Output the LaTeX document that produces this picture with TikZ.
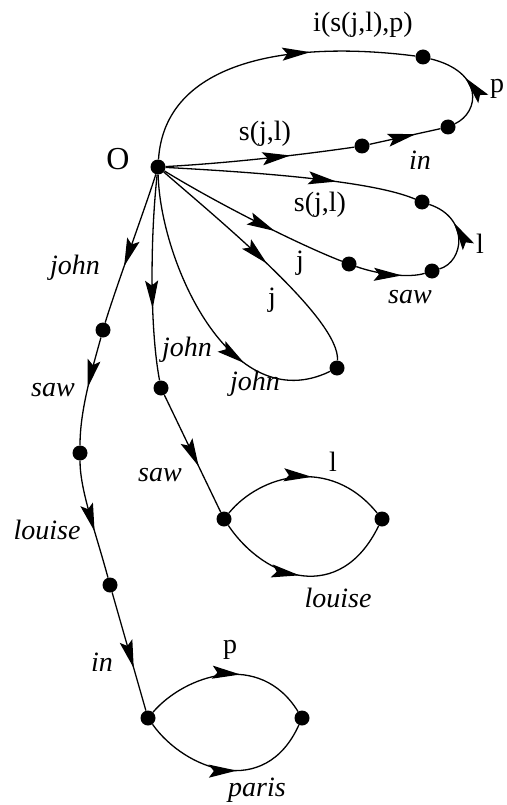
\documentclass[tikz,border=0pt]{standalone}
\usepackage{fontspec}
\setmainfont{Liberation Serif}
\usetikzlibrary{arrows.meta,decorations.markings}
\tikzset{
  dot/.style={circle,fill=black,inner sep=0pt,minimum size=15pt},
  edge/.style={line width=1.3pt},
  arr/.style={postaction={decorate,decoration={markings,
     mark=at position #1 with {\arrow{Stealth[length=28pt,width=13pt,inset=5pt]}}}}},
  lab/.style={font=\fontsize{28}{30}\selectfont,inner sep=0pt},
  ilab/.style={font=\fontsize{28}{30}\selectfont\itshape,inner sep=0pt},
}
\begin{document}
\begin{tikzpicture}[x=1pt,y=-1pt]
\useasboundingbox (0,0) rectangle (506,805);
% dots
\node[dot] (O)  at (158,167) {};
\node[dot] (A1) at (423,57) {};
\node[dot] (A2) at (448,127) {};
\node[dot] (B1) at (362,146) {};
\node[dot] (C1) at (422,202) {};
\node[dot] (C2) at (432,271) {};
\node[dot] (D1) at (349,264) {};
\node[dot] (E1) at (337,368) {};
\node[dot] (F1) at (161,388) {};
\node[dot] (G1) at (224,519) {};
\node[dot] (G2) at (382,519) {};
\node[dot] (H1) at (103,330) {};
\node[dot] (H2) at (80,453) {};
\node[dot] (H3) at (110,585) {};
\node[dot] (I1) at (148,718) {};
\node[dot] (I2) at (302,718) {};
% edges
\draw[edge,arr=0.66] (O) .. controls (165,60) and (290,40) .. (A1);
\draw[edge,arr=0.58] (A2) .. controls (480,112) and (484,72) .. (A1);
\draw[edge,arr=0.66] (O) .. controls (230,163) and (300,155) .. (B1);
\draw[edge,arr=0.65] (B1) -- (A2);
\draw[edge,arr=0.68] (O) .. controls (250,172) and (370,180) .. (C1);
\draw[edge,arr=0.64] (C2) .. controls (464,262) and (470,218) .. (C1);
\draw[edge,arr=0.63] (O) .. controls (220,205) and (300,245) .. (D1);
\draw[edge,arr=0.67] (D1) .. controls (380,275) and (410,278) .. (C2);
\draw[edge,arr=0.53] (O) .. controls (225,225) and (340,320) .. (E1);
\draw[edge,arr=0.70] (O) .. controls (160,260) and (230,420) .. (E1);
\draw[edge,arr=0.65] (O) .. controls (150,240) and (150,330) .. (F1);
\draw[edge,arr=0.61] (F1) -- (G1);
\draw[edge,arr=0.55] (G1) .. controls (260,475) and (330,455) .. (G2);
\draw[edge,arr=0.47] (G1) .. controls (265,580) and (340,605) .. (G2);
\draw[edge,arr=0.62] (O) .. controls (148,200) and (115,290) .. (H1);
\draw[edge,arr=0.47] (H1) .. controls (92,370) and (80,410) .. (H2);
\draw[edge,arr=0.60] (H2) .. controls (80,490) and (95,530) .. (H3);
\draw[edge,arr=0.64] (H3) -- (I1);
\draw[edge,arr=0.58] (I1) .. controls (185,675) and (260,650) .. (I2);
\draw[edge,arr=0.55] (I1) .. controls (185,770) and (265,800) .. (I2);
% labels
\node[lab,font=\fontsize{32}{34}\selectfont] (lO) at (118,159) {O};
\node[lab] (l1) at (363,25) {i(s(j,l),p)};
\node[lab] (l2) at (497,89) {p};
\node[lab] (l3) at (265,134) {s(j,l)};
\node[ilab] (l4) at (420,160) {in};
\node[lab] (l5) at (320,205) {s(j,l)};
\node[lab] (l6) at (480,244) {l};
\node[lab] (l7) at (300,263) {j};
\node[ilab] (l8) at (410,297) {saw};
\node[lab] (l9) at (272,300) {j};
\node[ilab] (l10) at (255,384) {john};
\node[ilab] (l11) at (187,350) {john};
\node[ilab] (l12) at (160,475) {saw};
\node[lab] (l13) at (333,462) {l};
\node[ilab] (l14) at (338,598) {louise};
\node[ilab] (l15) at (75,268) {john};
\node[ilab] (l16) at (53,390) {saw};
\node[ilab] (l17) at (47,530) {louise};
\node[ilab] (l18) at (102,662) {in};
\node[lab] (l19) at (230,650) {p};
\node[ilab] (l20) at (257,790) {paris};
\end{tikzpicture}
\end{document}
